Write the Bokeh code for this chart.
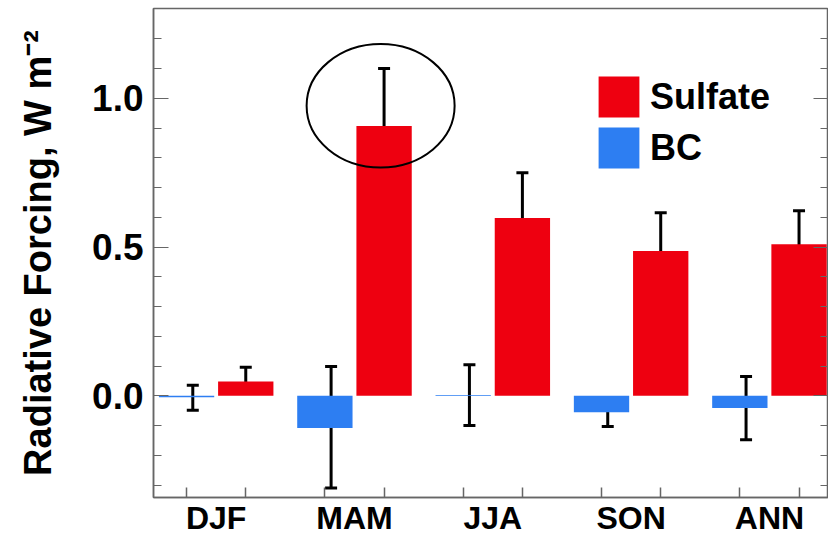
from bokeh.plotting import figure
from bokeh.models import (ColumnDataSource, Range1d, FixedTicker, LinearAxis, Whisker,
                          TeeHead, Legend, LegendItem)
from bokeh.transform import dodge
from bokeh.embed import file_html
from bokeh.resources import INLINE

# ---- data ----
categories = ["DJF", "MAM", "JJA", "SON", "ANN"]
sulfate = [0.048, 0.907, 0.598, 0.487, 0.509]
sulfate_lo = [0.008, 0.700, 0.453, 0.360, 0.403]
sulfate_hi = [0.096, 1.100, 0.750, 0.615, 0.622]
bc = [-0.005, -0.108, 0.003, -0.055, -0.041]
bc_lo = [-0.049, -0.310, -0.100, -0.103, -0.148]
bc_hi = [0.035, 0.098, 0.104, -0.006, 0.065]
y_major = [0.0, 0.5, 1.0]
y_major_labels = ["0.0", "0.5", "1.0"]
y_minor = [-0.3, -0.2, -0.1, 0.1, 0.2, 0.3, 0.4, 0.6, 0.7, 0.8, 0.9, 1.1, 1.2]
highlight_category = "MAM"

# ---- style ----
RED = "#EE0010"
BLUE = "#2D7EF2"
AXIS = "#666666"
FONT = "Liberation Sans"
OFF = 0.214
BAR_W = 0.40

xs = list(range(len(categories)))
src = ColumnDataSource(dict(x=xs, cat=categories, sulfate=sulfate, s_lo=sulfate_lo,
                            s_hi=sulfate_hi, bc=bc, b_lo=bc_lo, b_hi=bc_hi))

p = figure(width=828, height=538, output_backend="svg", toolbar_location=None,
           x_range=Range1d(-0.453, 4.427), y_range=Range1d(-0.342, 1.302),
           min_border_left=153, min_border_right=0, min_border_top=8, min_border_bottom=36)
p.xaxis.visible = False
p.yaxis.visible = False
p.grid.visible = False
p.outline_line_color = AXIS
p.outline_line_width = 1.5

r_bc = p.vbar(x=dodge("x", -OFF), top="bc", bottom=0, width=BAR_W, source=src,
              fill_color=BLUE, line_color=None)
r_su = p.vbar(x=dodge("x", OFF), top="sulfate", bottom=0, width=BAR_W, source=src,
              fill_color=RED, line_color=None)

for base, lo, hi in [(dodge("x", -OFF + 0.045), "b_lo", "b_hi"), (dodge("x", OFF), "s_lo", "s_hi")]:
    w = Whisker(base=base, lower=lo, upper=hi, source=src, line_width=3, line_color="black",
                upper_head=TeeHead(size=12, line_width=3, line_color="black"),
                lower_head=TeeHead(size=12, line_width=3, line_color="black"))
    p.add_layout(w)

# highlight ellipse around MAM sulfate error bar top
hi_i = categories.index(highlight_category)
p.ellipse(x=[hi_i + OFF - 0.025], y=[sulfate_hi[hi_i] - 0.125], width=1.07, height=0.415,
          fill_color=None, line_color="black", line_width=2)

# x axis
xticker = FixedTicker(ticks=xs, minor_ticks=[i + d for i in xs for d in (-OFF, OFF)])
xa = LinearAxis(ticker=xticker,
                major_label_overrides={i: c for i, c in zip(xs, categories)},
                major_tick_in=0, major_tick_out=0, minor_tick_in=10, minor_tick_out=0,
                axis_line_color=AXIS, axis_line_width=1.5, minor_tick_line_color=AXIS,
                minor_tick_line_width=1.5,
                major_label_text_font=FONT, major_label_text_font_style="bold",
                major_label_text_font_size="32px", major_label_text_color="black",
                major_label_standoff=2)
p.add_layout(xa, "below")

# y axis
yticker = FixedTicker(ticks=y_major, minor_ticks=y_minor)
ya = LinearAxis(ticker=yticker,
                major_label_overrides={v: s for v, s in zip(y_major, y_major_labels)},
                major_tick_in=15, major_tick_out=0, minor_tick_in=8, minor_tick_out=0,
                axis_line_color=AXIS, axis_line_width=1.5,
                major_tick_line_color=AXIS, minor_tick_line_color=AXIS,
                major_tick_line_width=1.2, minor_tick_line_width=1.2,
                major_label_text_font=FONT, major_label_text_font_style="bold",
                major_label_text_font_size="37px", major_label_text_color="black",
                major_label_standoff=10,
                axis_label="Radiative Forcing, W m\u207b\u00b2",
                axis_label_text_font=FONT, axis_label_text_font_style="bold",
                axis_label_text_font_size="38px", axis_label_text_color="black",
                axis_label_standoff=30)
p.add_layout(ya, "left")

ya2 = LinearAxis(ticker=yticker,
                 major_label_overrides={v: "" for v in y_major},
                 major_tick_in=15, major_tick_out=0, minor_tick_in=8, minor_tick_out=0,
                 axis_line_color=AXIS, axis_line_width=1.5,
                 major_tick_line_color=AXIS, minor_tick_line_color=AXIS,
                 major_label_text_font_size="1px", major_label_standoff=0)
p.add_layout(ya2, "right")

legend = Legend(items=[LegendItem(label="Sulfate", renderers=[r_su]),
                       LegendItem(label="BC", renderers=[r_bc])],
                location=(440, 324), padding=0, margin=0, spacing=-3,
                glyph_width=51, glyph_height=51, label_standoff=6,
                label_text_font=FONT, label_text_font_style="bold",
                label_text_font_size="36px", label_text_color="black",
                border_line_alpha=0, background_fill_alpha=0)
p.add_layout(legend, "center")

open("out.html", "w").write(file_html(p, INLINE))
